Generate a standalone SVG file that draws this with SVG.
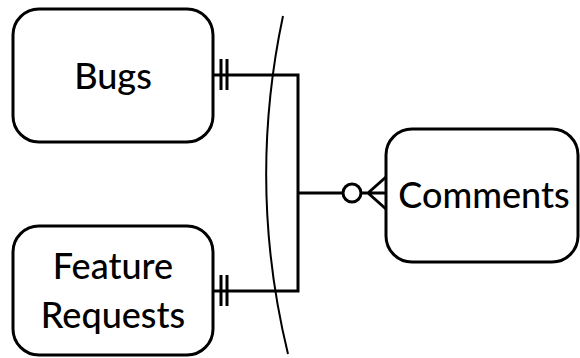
<svg xmlns="http://www.w3.org/2000/svg" width="580" height="358" viewBox="0 0 580 358">
<style>
.box{fill:#fff;stroke:#000;stroke-width:3}
.lbl{font-family:Lato,"Open Sans",sans-serif;font-size:36px;font-weight:500;fill:#000;text-anchor:middle}
.con{fill:none;stroke:#000;stroke-width:3}
</style>
<rect width="580" height="358" fill="#fff"/>
<g id="boundary">
<path d="M283,16 A761,761 0 0,0 288,354" fill="none" stroke="#000" stroke-width="2"/>
</g>
<g id="connectors" class="con">
<path d="M213,75 H298 V291 H213"/>
<path d="M298,193 H343"/>
<path d="M221,59 V90 M227,59 V90"/>
<path d="M221,275 V306 M227,275 V306"/>
<circle cx="352" cy="193" r="9"/>
<path d="M361,193 H386 M368,193 L386,177 M368,193 L386,209"/>
</g>
<g id="bugs">
<rect class="box" x="13" y="9" width="200" height="133" rx="26"/>
<text class="lbl" x="113" y="89">Bugs</text>
</g>
<g id="feature-requests">
<rect class="box" x="13" y="226" width="200" height="129" rx="26"/>
<text class="lbl" x="113" y="279">Feature</text>
<text class="lbl" x="113" y="328">Requests</text>
</g>
<g id="comments">
<rect class="box" x="386" y="129" width="192" height="133" rx="26"/>
<text class="lbl" x="484" y="208">Comments</text>
</g>
</svg>
